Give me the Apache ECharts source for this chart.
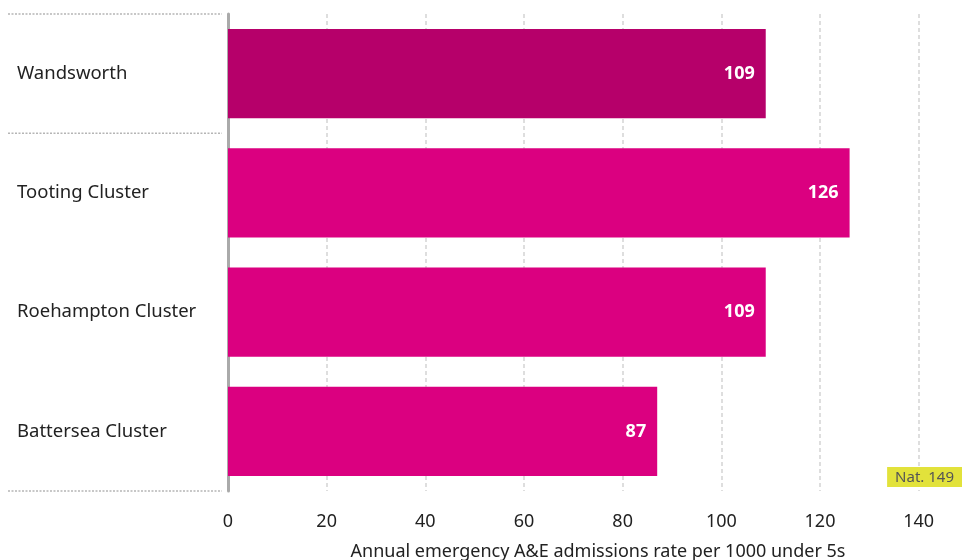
<!DOCTYPE html>
<html><head><meta charset="utf-8">
<script src="https://cdn.jsdelivr.net/npm/echarts@6/dist/echarts.min.js"></script>
<style>html,body{margin:0;padding:0;background:#fff}#c{width:962px;height:560px}</style>
</head><body><div id="c"></div>
<script>
const categories = ['Wandsworth', 'Tooting Cluster', 'Roehampton Cluster', 'Battersea Cluster'];
const values = [109, 126, 109, 87];
const barColors = ['#b6006a', '#db0080', '#db0080', '#db0080'];
const xTicks = [0, 20, 40, 60, 80, 100, 120, 140];
const natValue = 149;
const axisName = 'Annual emergency A&E admissions rate per 1000 under 5s';
const FONT = 'Noto Sans';

const chart = echarts.init(document.getElementById('c'), null, {renderer: 'canvas'});
chart.setOption({
  animation: false,
  textStyle: {fontFamily: FONT},
  grid: {left: 228, top: 14, bottom: 69, width: 740, outerBoundsMode: 'none', containLabel: false},
  xAxis: {
    type: 'value', min: 0, max: 150, interval: 20,
    axisLine: {show: false}, axisTick: {show: false},
    axisLabel: {color: '#222', fontSize: 18, margin: 22, fontFamily: FONT,
      formatter: v => xTicks.includes(v) ? String(v) : ''},
    splitLine: {show: true, lineStyle: {color: '#d4d4d4', width: 1.5, type: [4, 3]}},
    name: axisName, nameLocation: 'middle', nameGap: 52,
    nameTextStyle: {color: '#222', fontSize: 18, fontFamily: FONT}
  },
  yAxis: {
    type: 'category', data: categories, inverse: true,
    axisLine: {show: true, lineStyle: {color: '#aaa', width: 3}},
    axisTick: {show: false},
    axisLabel: {align: 'left', margin: 211, color: '#222', fontSize: 18.5, fontFamily: FONT,
      padding: [4, 0, 0, 0]},
    splitLine: {show: false}
  },
  series: [{
    type: 'bar',
    data: values.map((v, i) => ({value: v, itemStyle: {color: barColors[i]}})),
    barWidth: '75%',
    label: {show: true, position: 'insideRight', distance: 11, color: '#fff',
      fontWeight: 'bold', fontSize: 18, fontFamily: FONT}
  }]
});

const rect = chart.getModel().getComponent('grid').coordinateSystem.getRect();
const band = rect.height / categories.length;
const sepY = [rect.y, rect.y + band, rect.y + rect.height];
chart.setOption({
  graphic: sepY.map(y => ({
    type: 'line', shape: {x1: 8, y1: y, x2: rect.x - 6, y2: y},
    style: {stroke: '#b5b5b5', lineWidth: 1.5, lineDash: [2, 1.5]}
  })).concat([{
    type: 'text', right: 0, top: rect.y + rect.height - 24, z: 10,
    style: {text: 'Nat. ' + natValue, fill: '#555', fontSize: 15, fontFamily: FONT,
      backgroundColor: '#e2e23b', padding: [3, 8, 2, 8]}
  }])
});
</script></body></html>
